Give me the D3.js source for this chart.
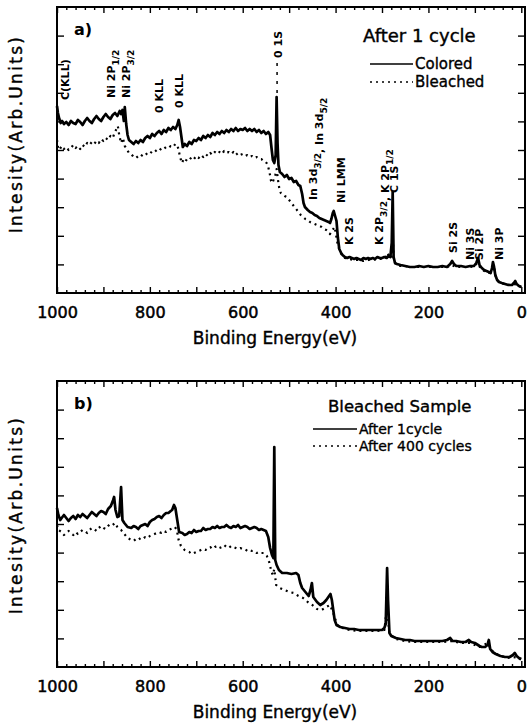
<!DOCTYPE html>
<html><head><meta charset="utf-8">
<script src="https://cdn.jsdelivr.net/npm/d3@7"></script>
<style>body{margin:0;background:#fff}svg{display:block}</style>
</head><body>
<svg id="c" width="527" height="724"></svg>
<script>
// ---------- data ----------
const energyTicks = [1000, 800, 600, 400, 200, 0];
const energyMajor = [1000,900,800,700,600,500,400,300,200,100,0];
const intensityTicks = [28.6,57.2,85.8,114.4,143,171.6,200.2,228.8,257.4];

// Panel a: after 1 cycle, colored vs bleached  [binding energy eV, intensity arb.]
const aColored = [[1000,187],[998,180],[995,174],[992,170],[989,172],[985,169],[980,171],[975,168],[970,172],[965,170],[960,169],[955,173],[950,171],[945,168],[940,172],[935,175],[930,172],[925,170],[920,174],[915,177],[910,174],[905,172],[900,176],[895,179],[890,176],[885,174],[880,178],[875,180],[870,177],[865,182],[862,179],[859,183],[856,172],[854,186],[851,169],[848,158],[845,153],[840,151],[835,149],[830,152],[825,150],[820,153],[815,151],[810,155],[805,157],[800,155],[795,159],[790,157],[785,160],[780,162],[775,159],[770,163],[765,161],[760,165],[755,163],[750,166],[745,164],[741,168],[738,173],[735,166],[732,156],[729,146],[725,149],[720,147],[715,151],[710,149],[705,153],[700,152],[695,155],[690,153],[685,157],[680,155],[675,158],[670,156],[665,160],[660,158],[655,161],[650,159],[645,162],[640,160],[635,163],[630,161],[625,164],[620,162],[615,165],[610,162],[605,164],[600,163],[595,165],[590,162],[585,164],[580,162],[575,164],[570,161],[565,163],[560,160],[555,162],[550,159],[545,161],[541,158],[538,145],[535,133],[532,130],[529,138],[527,196],[525,150],[523,128],[520,121],[515,119],[510,116],[505,118],[500,114],[495,115],[490,111],[485,112],[480,108],[476,107],[472,99],[469,90],[466,86],[460,83],[455,81],[450,80],[445,78],[440,77],[435,75],[430,74],[425,73],[420,72],[415,71],[412,70],[409,74],[406,80],[404,82],[401,77],[398,72],[395,55],[392,44],[388,40],[385,38],[380,36],[375,35],[370,36],[365,35],[360,34],[355,35],[350,34],[345,33],[340,35],[335,34],[330,35],[325,34],[320,35],[315,34],[310,36],[305,35],[300,35],[295,36],[290,35],[286,37],[282,36],[279,50],[277,101],[275,36],[272,30],[268,29],[260,28],[250,27],[240,26],[230,26],[220,27],[210,26],[200,27],[190,26],[180,26],[170,27],[160,26],[153,29],[149,32],[145,29],[140,27],[130,27],[120,26],[110,27],[102,27],[97,30],[93,35],[90,28],[85,25],[80,23],[75,22],[70,21],[66,20],[63,25],[61,31],[59,27],[56,18],[52,13],[48,11],[42,10],[35,9],[28,8],[20,8],[16,10],[13,12],[10,9],[5,7],[0,6]];
const aBleached = [[1000,153],[998,146],[995,143],[990,147],[985,144],[980,146],[975,143],[970,145],[965,148],[960,145],[955,147],[950,144],[945,148],[940,146],[935,150],[930,148],[925,151],[920,149],[915,152],[910,150],[905,154],[900,152],[895,155],[890,153],[885,157],[880,155],[876,160],[872,164],[869,167],[866,158],[862,150],[858,155],[854,147],[850,144],[845,140],[840,139],[835,136],[830,135],[825,137],[820,136],[815,139],[810,138],[805,140],[800,139],[795,142],[790,141],[785,143],[780,142],[775,145],[770,144],[765,146],[760,145],[755,147],[750,146],[745,149],[741,148],[738,143],[735,136],[731,130],[728,133],[724,131],[720,134],[715,133],[710,136],[705,134],[700,137],[695,135],[690,138],[685,136],[680,139],[675,137],[670,140],[665,138],[660,141],[655,139],[650,141],[645,139],[640,142],[635,140],[630,141],[625,139],[620,141],[615,138],[610,140],[605,138],[600,139],[595,137],[590,138],[585,136],[580,137],[575,135],[570,136],[565,134],[560,134],[555,132],[550,131],[546,128],[542,120],[539,112],[536,110],[533,114],[530,118],[527,124],[524,113],[521,104],[518,100],[510,97],[505,96],[500,93],[495,90],[490,87],[485,84],[480,81],[475,78],[470,76],[465,74],[460,73],[455,71],[450,70],[445,69],[440,68],[435,67],[430,66],[425,64],[420,63],[415,61],[412,59],[409,62],[405,64],[402,66],[399,58],[396,50],[393,45],[390,41],[385,37],[380,35],[370,34],[360,33],[350,33],[340,32],[330,33],[320,33],[310,34],[300,34],[294,35],[290,37],[288,40],[286,38],[283,36],[280,35],[277,60],[275,34],[272,30],[268,28],[260,27],[250,27],[240,26],[230,26],[220,26],[210,26],[200,26],[190,26],[180,26],[170,26],[160,26],[150,28],[140,26],[130,26],[120,26],[110,26],[100,27],[95,30],[91,27],[85,24],[80,22],[75,21],[70,20],[65,21],[61,27],[58,24],[55,16],[50,12],[45,10],[35,9],[25,8],[15,9],[10,8],[5,7],[0,6]];

// Panel b: bleached sample, after 1 cycle vs after 400 cycles
const bCycle1 = [[1000,159],[997,152],[993,147],[990,149],[985,152],[980,149],[975,146],[970,149],[965,151],[960,148],[955,152],[950,150],[945,153],[940,151],[935,149],[930,152],[925,155],[920,153],[915,151],[910,154],[905,156],[900,155],[895,153],[890,158],[884,161],[879,167],[877,170],[874,157],[870,150],[866,151],[862,180],[859,147],[855,144],[848,140],[840,139],[835,141],[830,140],[825,138],[820,141],[815,142],[810,143],[805,141],[800,145],[795,147],[790,148],[785,150],[780,151],[775,149],[770,152],[765,154],[760,154],[755,156],[752,157],[748,162],[745,159],[741,147],[737,135],[730,134],[725,132],[720,133],[715,135],[710,134],[705,137],[700,135],[695,136],[690,136],[685,139],[680,137],[675,138],[670,138],[665,140],[660,139],[655,141],[650,139],[645,140],[640,140],[635,142],[630,140],[625,139],[620,141],[615,140],[610,142],[605,139],[600,140],[595,141],[590,140],[585,138],[580,139],[575,140],[570,139],[565,137],[560,138],[555,137],[550,136],[545,130],[541,119],[537,112],[534,109],[532,220],[530,107],[527,102],[522,97],[515,94],[505,94],[495,93],[485,94],[480,92],[476,84],[472,79],[465,75],[458,71],[454,77],[451,84],[448,70],[440,65],[433,62],[426,64],[420,67],[414,71],[411,73],[408,67],[405,57],[402,47],[398,42],[390,40],[380,39],[370,38],[360,38],[350,37],[340,37],[330,37],[320,37],[310,37],[300,37],[295,39],[292,43],[289,99],[287,67],[284,34],[280,31],[270,29],[260,28],[250,27],[240,27],[230,26],[220,26],[210,26],[200,26],[190,26],[180,26],[170,26],[160,27],[153,29],[148,26],[140,26],[130,25],[120,25],[113,27],[108,25],[100,24],[90,21],[85,20],[78,20],[73,22],[70,27],[67,18],[62,15],[55,13],[45,11],[35,10],[25,10],[18,12],[14,14],[10,11],[5,9],[0,8]];
const bCycle400 = [[1000,142],[997,137],[990,135],[985,132],[980,134],[975,136],[970,134],[965,132],[960,135],[955,133],[950,135],[945,137],[940,136],[935,134],[930,137],[925,139],[920,138],[915,136],[910,139],[905,141],[900,139],[895,138],[890,141],[885,143],[880,142],[875,144],[870,140],[866,138],[862,137],[858,135],[855,133],[848,129],[840,127],[835,126],[830,128],[825,127],[820,129],[815,128],[810,130],[805,129],[800,131],[795,132],[790,133],[785,134],[780,135],[775,134],[770,136],[765,135],[760,137],[755,138],[750,139],[746,140],[742,137],[738,127],[733,121],[725,117],[720,116],[715,115],[710,113],[705,114],[700,115],[695,116],[690,117],[685,118],[680,117],[675,119],[670,120],[665,118],[660,120],[655,121],[650,119],[645,120],[640,122],[635,120],[630,119],[625,121],[620,120],[615,119],[610,118],[605,119],[600,118],[595,118],[590,116],[585,117],[580,116],[575,116],[570,114],[565,115],[560,114],[555,114],[548,111],[543,105],[538,95],[535,92],[532,98],[530,90],[528,82],[520,79],[510,77],[500,75],[490,74],[480,71],[470,69],[460,65],[450,62],[440,58],[430,57],[420,60],[412,62],[405,54],[400,47],[395,41],[385,39],[370,37],[350,36],[330,36],[310,36],[295,37],[289,60],[284,33],[270,28],[250,26],[230,25],[210,25],[190,25],[170,25],[150,26],[130,24],[110,24],[90,20],[72,24],[65,17],[50,12],[30,9],[10,10],[0,7]];

// Peak assignments on panel a: [energy, intensity] anchor and text pieces [text, kind]
const peakLabels = [
  {e:974, v:193, parts:[["C(KLL)",0]]},
  {e:875, v:195, parts:[["Ni 2P",0],["1/2",1]]},
  {e:843, v:195, parts:[["Ni 2P",0],["3/2",1]]},
  {e:772, v:180, parts:[["0 KLL",0]]},
  {e:729, v:185, parts:[["0 KLL",0]]},
  {e:515, v:235, parts:[["0 1S",0]]},
  {e:440, v:93,  parts:[["In 3d",0],["3/2",1],[", In 3d",2],["5/2",1]]},
  {e:380, v:90,  parts:[["Ni LMM",0]]},
  {e:362, v:48,  parts:[["K 2S",0]]},
  {e:298, v:48,  parts:[["K 2P",0],["3/2",1],[", K 2P",2],["1/2",1]]},
  {e:266, v:100, parts:[["C 1S",0]]},
  {e:138, v:40,  parts:[["Si 2S",0]]},
  {e:102, v:33,  parts:[["Ni 3S",0]]},
  {e:82,  v:33,  parts:[["Si 2P",0]]},
  {e:39,  v:33,  parts:[["Ni 3P",0]]}
];

// ---------- drawing ----------
const svg = d3.select("#c");
const FONT = "'DejaVu Sans', Verdana, sans-serif";
const L = 57, R = 525;
const x = d3.scaleLinear().domain([1000, -8]).range([L, R]);

function heavy(sel, w) {
  return sel.attr("stroke", "#000").attr("stroke-width", w).attr("paint-order", "stroke");
}

function panel(top, bottom, series, opts) {
  const y = d3.scaleLinear().domain([0, 286]).range([bottom, top]);
  const g = svg.append("g");
  // ticks
  const minor = d3.range(0, 1001, 20).filter(d => d % 100 !== 0);
  g.append("g").attr("transform", `translate(0,${bottom})`)
    .call(d3.axisBottom(x).tickValues(minor).tickSize(-3).tickFormat(""));
  g.append("g").attr("transform", `translate(0,${bottom})`)
    .call(d3.axisBottom(x).tickValues(energyMajor).tickSize(-6).tickFormat(""));
  g.append("g").attr("transform", `translate(0,${top})`)
    .call(d3.axisTop(x).tickValues(minor).tickSize(-3).tickFormat(""));
  g.append("g").attr("transform", `translate(0,${top})`)
    .call(d3.axisTop(x).tickValues(energyMajor).tickSize(-6).tickFormat(""));
  g.append("g").attr("transform", `translate(${L},0)`)
    .call(d3.axisLeft(y).tickValues(intensityTicks).tickSize(-7).tickFormat(""));
  g.append("g").attr("transform", `translate(${R},0)`)
    .call(d3.axisRight(y).tickValues(intensityTicks).tickSize(-7).tickFormat(""));
  g.selectAll(".domain").remove();
  g.selectAll(".tick line").attr("stroke", "#000").attr("stroke-width", 1.4);
  // labels
  const lab = g.append("g").attr("transform", `translate(0,${bottom})`)
    .call(d3.axisBottom(x).tickValues(energyTicks).tickSize(0).tickFormat(d3.format("d")));
  lab.select(".domain").remove();
  heavy(lab.selectAll("text").attr("font-family", FONT).attr("font-size", 16)
    .attr("fill", "#000").attr("dy", 0).attr("y", 25), 0.5);
  heavy(g.append("text").attr("x", 275).attr("y", bottom + 51)
    .attr("text-anchor", "middle").attr("font-family", FONT).attr("font-size", 17)
    .text("Binding Energy(eV)"), 0.4);
  heavy(g.append("text").attr("transform", `translate(22,${opts.ytitleY}) rotate(-90)`)
    .attr("text-anchor", "middle").attr("font-family", FONT).attr("font-size", 17)
    .attr("letter-spacing", 2.3).text("Intesity(Arb.Units)"), 0.4);
  // curves
  const line = d3.line().x(d => x(d[0])).y(d => y(d[1]));
  series.forEach(s => {
    g.append("path").datum(s.data).attr("d", line).attr("fill", "none")
      .attr("stroke", "#000").attr("stroke-width", s.dotted ? 2.2 : 2.7)
      .attr("stroke-linejoin", "round")
      .attr("stroke-dasharray", s.dotted ? "2,4" : null);
  });
  // frame
  g.append("rect").attr("x", L).attr("y", top).attr("width", R - L).attr("height", bottom - top)
    .attr("fill", "none").attr("stroke", "#000").attr("stroke-width", 2);
  // panel letter
  g.append("text").attr("x", 74).attr("y", top + 28).attr("font-family", FONT)
    .attr("font-size", 16).attr("font-weight", "bold").text(opts.letter);
  // legend
  const lg = opts.legend;
  heavy(g.append("text").attr("x", lg.tx).attr("y", lg.ty).attr("font-family", FONT)
    .attr("font-size", lg.tsize).text(lg.title), 0.4);
  lg.items.forEach((it, i) => {
    const yy = lg.y0 + i * lg.dy;
    g.append("line").attr("x1", lg.lx1).attr("x2", lg.lx2).attr("y1", yy).attr("y2", yy)
      .attr("stroke", "#000").attr("stroke-width", 1.5)
      .attr("stroke-dasharray", it.dotted ? "2,4" : null);
    heavy(g.append("text").attr("x", lg.lx2 + 2).attr("y", yy + 5).attr("font-family", FONT)
      .attr("font-size", lg.isize).text(it.name), 0.35);
  });
  return y;
}

const yA = panel(7, 293, [
  {data: aBleached, dotted: true},
  {data: aColored, dotted: false}
], {letter: "a)", ytitleY: 134, legend: {
  title: "After 1 cycle", tx: 363, ty: 42, tsize: 18,
  lx1: 370, lx2: 413, y0: 64, dy: 18, isize: 15,
  items: [{name: "Colored"}, {name: "Bleached", dotted: true}]
}});

panel(381, 667, [
  {data: bCycle400, dotted: true},
  {data: bCycle1, dotted: false}
], {letter: "b)", ytitleY: 515, legend: {
  title: "Bleached Sample", tx: 328, ty: 412, tsize: 16.5,
  lx1: 313, lx2: 357, y0: 429, dy: 17, isize: 14,
  items: [{name: "After 1cycle"}, {name: "After 400 cycles", dotted: true}]
}});

// peak labels on panel a
const lbl = svg.append("g");
peakLabels.forEach(p => {
  const t = lbl.append("text")
    .attr("transform", `translate(${x(p.e)},${yA(p.v)}) rotate(-90)`)
    .attr("font-family", FONT).attr("font-weight", "bold").attr("font-size", 11);
  p.parts.forEach(([s, k]) => {
    const ts = t.append("tspan").text(s);
    if (k === 1) ts.attr("font-size", 9).attr("dy", 4);
    if (k === 2) ts.attr("dy", 2);
  });
});
// O 1s leader
svg.append("line").attr("x1", x(526)).attr("x2", x(526)).attr("y1", yA(230)).attr("y2", yA(198))
  .attr("stroke", "#000").attr("stroke-width", 1.5).attr("stroke-dasharray", "3,6");
</script>
</body></html>
